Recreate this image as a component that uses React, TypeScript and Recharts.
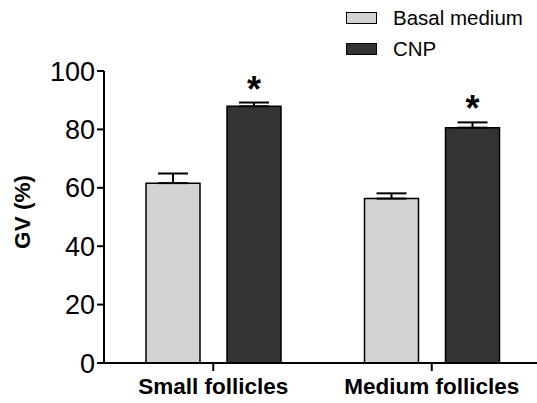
import React from 'react';
import { BarChart, Bar, XAxis, YAxis, ErrorBar, LabelList, Legend } from 'recharts';

const categories = ['Small follicles', 'Medium follicles'];
const basalValues = [61.6, 56.3];
const basalErrors = [3.3, 1.8];
const cnpValues = [87.9, 80.6];
const cnpErrors = [1.3, 1.8];
const significant = [true, true];
const yTicks = [0, 20, 40, 60, 80, 100];

const data = categories.map((c, i) => ({
  name: c,
  basal: basalValues[i],
  basalErr: [0, basalErrors[i]],
  cnp: cnpValues[i],
  cnpErr: [0, cnpErrors[i]],
  sig: significant[i],
}));

const FONT = '"Liberation Sans", Arial, Helvetica, sans-serif';

const renderAsterisk = (props: any) => {
  const { x, y, width, height, value, index } = props;
  if (!significant[index]) return null;
  const scale = height / value;
  const capY = y - cnpErrors[index] * scale;
  const centerY = capY - 18;
  return (
    <text
      x={x + width / 2}
      y={centerY + 17}
      textAnchor="middle"
      fontFamily={FONT}
      fontWeight="bold"
      fontSize={36}
      fill="#000"
    >
      *
    </text>
  );
};

const renderLegend = (props: any) => {
  const { payload } = props;
  return (
    <div style={{ fontFamily: FONT, fontSize: 20.5, color: '#000' }}>
      {payload.map((entry: any, i: number) => (
        <div key={i} style={{ display: 'flex', alignItems: 'center', height: 31 }}>
          <div
            style={{
              width: 29,
              height: 10,
              background: entry.color,
              border: '1.5px solid #000',
              marginRight: 16,
            }}
          />
          <span>{entry.value}</span>
        </div>
      ))}
    </div>
  );
};

const renderYLabel = (props: any) => {
  const { viewBox } = props;
  const cy = viewBox.y + viewBox.height / 2 - 5;
  const cx = 22;
  return (
    <text
      x={cx}
      y={cy}
      transform={`rotate(-90 ${cx} ${cy})`}
      textAnchor="middle"
      dominantBaseline="central"
      fontFamily={FONT}
      fontWeight="bold"
      fontSize={22.5}
      fill="#000"
    >
      GV (%)
    </text>
  );
};

export default function App() {
  return (
    <div style={{ position: 'absolute', left: 0, top: 0, width: 537, height: 403, overflow: 'hidden', background: '#fff' }}>
      <BarChart
        width={541}
        height={403}
        data={data}
        margin={{ top: 71, right: 0, bottom: 0, left: 0 }}
        barSize={54}
        barGap={27}
      >
        <XAxis
          dataKey="name"
          axisLine={{ stroke: '#000', strokeWidth: 2 }}
          tickLine={{ stroke: '#000', strokeWidth: 2 }}
          tickSize={8}
          height={40}
          tick={{ fill: '#000', fontFamily: FONT, fontWeight: 'bold', fontSize: 22.5, dy: 5 }}
        />
        <YAxis
          domain={[0, 100]}
          ticks={yTicks}
          width={104}
          axisLine={{ stroke: '#000', strokeWidth: 2 }}
          tickLine={{ stroke: '#000', strokeWidth: 2 }}
          tickSize={7}
          tickMargin={2}
          tick={{ fill: '#000', fontFamily: FONT, fontSize: 27 }}
          label={{ content: renderYLabel }}
        />
        <Legend
          layout="vertical"
          align="center"
          verticalAlign="middle"
          content={renderLegend}
          wrapperStyle={{ position: 'absolute', left: 346, top: 2, width: 'auto' }}
        />
        <Bar dataKey="basal" name="Basal medium" fill="#d3d3d3" stroke="#000" strokeWidth={1.5} isAnimationActive={false}>
          <ErrorBar dataKey="basalErr" width={15} stroke="#000" strokeWidth={2} direction="y" />
        </Bar>
        <Bar dataKey="cnp" name="CNP" fill="#333333" stroke="#000" strokeWidth={1.5} isAnimationActive={false}>
          <ErrorBar dataKey="cnpErr" width={15} stroke="#000" strokeWidth={2} direction="y" />
          <LabelList dataKey="cnp" content={renderAsterisk} />
        </Bar>
      </BarChart>
    </div>
  );
}
